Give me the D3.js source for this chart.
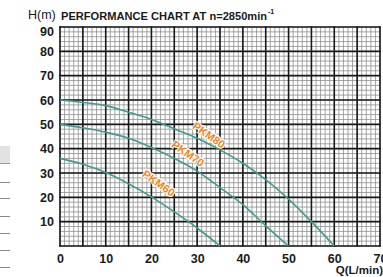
<!DOCTYPE html>
<html>
<head>
<meta charset="UTF-8">
<title></title>
<script src="https://cdn.jsdelivr.net/npm/d3@7/dist/d3.min.js"></script>
<style>
    body{ margin:0; padding:0; background:#fff; }
    svg text{ font-family:"Liberation Sans", Arial, sans-serif; }
    .tick text{ font-weight:bold; font-size:12.5px; fill:#1a1a1a; }
</style>
</head>
<body>
<svg id="chart" width="383" height="277"></svg>
<script>
// curve data (Q in L/min, H in m)
var pkm80Q = [0, 5, 10, 15, 20, 25, 30, 35, 40, 45, 50, 55, 60];
var pkm80H = [60, 59, 57.7, 55, 52, 48.2, 44.3, 39.5, 34, 27.3, 19.3, 10, 0];
var pkm70Q = [0, 5, 10, 15, 20, 25, 30, 35, 40, 45, 50];
var pkm70H = [50, 48.6, 46.8, 44.3, 40.5, 36, 30.8, 24, 17, 8.3, 0];
var pkm60Q = [0, 5, 10, 15, 20, 25, 30, 35];
var pkm60H = [36, 33.6, 30.2, 25.6, 20.2, 14, 7.4, 0];
var models = ["PKM80", "PKM70", "PKM60"];
var labelQ = [32.6, 28, 21.6];
var labelH = [45.6, 38, 25.8];
var xTicks = [0, 10, 20, 30, 40, 50, 60, 70];
var yTicks = [10, 20, 30, 40, 50, 60, 70, 80, 90];

var svg = d3.select("#chart");

var x = d3.scaleLinear().domain([0, 70]).range([60, 380]);
var y = d3.scaleLinear().domain([0, 90]).range([246, 27]);

// bits of the neighbouring table at the left edge
svg.append("rect").attr("x", 0).attr("y", 146).attr("width", 10).attr("height", 17)
    .attr("fill", "#e2e2e2");
svg.append("line").attr("x1", 0).attr("x2", 10).attr("y1", 163.5).attr("y2", 163.5)
    .attr("stroke", "#999");
svg.selectAll(".tbl").data([182, 198, 216, 233, 250, 267]).enter()
    .append("line").attr("class", "tbl")
    .attr("x1", 0).attr("x2", 10)
    .attr("y1", function(d){ return d + 0.5; }).attr("y2", function(d){ return d + 0.5; })
    .attr("stroke", "#888");

// minor grid
var g = svg.append("g");
g.selectAll(".vmin").data(d3.range(0, 71, 1)).enter()
    .append("line").attr("class", "vmin")
    .attr("x1", function(d){ return x(d); }).attr("x2", function(d){ return x(d); })
    .attr("y1", y(0)).attr("y2", y(90))
    .attr("stroke", "#8e8e8e").attr("stroke-width", 0.8);
g.selectAll(".hmin").data(d3.range(0, 91, 2)).enter()
    .append("line").attr("class", "hmin")
    .attr("y1", function(d){ return y(d); }).attr("y2", function(d){ return y(d); })
    .attr("x1", x(0)).attr("x2", x(70))
    .attr("stroke", "#8e8e8e").attr("stroke-width", 0.8);
// major grid
g.selectAll(".vmaj").data(d3.range(0, 71, 5)).enter()
    .append("line").attr("class", "vmaj")
    .attr("x1", function(d){ return x(d); }).attr("x2", function(d){ return x(d); })
    .attr("y1", y(0) + 0.8).attr("y2", y(90) - 0.8)
    .attr("stroke", "#1a1a1a").attr("stroke-width", 1.6);
g.selectAll(".hmaj").data(d3.range(0, 91, 10)).enter()
    .append("line").attr("class", "hmaj")
    .attr("y1", function(d){ return y(d); }).attr("y2", function(d){ return y(d); })
    .attr("x1", x(0) - 0.8).attr("x2", x(70) + 0.8)
    .attr("stroke", "#1a1a1a").attr("stroke-width", 1.6);

// axes (labels only)
var xAxis = d3.axisBottom(x).tickValues(xTicks).tickSize(0).tickPadding(8);
var yAxis = d3.axisLeft(y).tickValues(yTicks).tickSize(0).tickPadding(6);
svg.append("g").attr("transform", "translate(0," + y(0) + ")").call(xAxis)
    .call(function(s){ s.select(".domain").remove(); });
svg.append("g").attr("transform", "translate(" + x(0) + ",0)").call(yAxis)
    .call(function(s){
        s.select(".domain").remove();
        // top label sits a little below its line, under H(m)
        s.selectAll(".tick text").filter(function(d){ return d === 90; }).attr("y", 4);
    });

// curves
var line = d3.line()
    .x(function(d){ return x(d[0]); })
    .y(function(d){ return y(d[1]); })
    .curve(d3.curveMonotoneX);
[[pkm80Q, pkm80H], [pkm70Q, pkm70H], [pkm60Q, pkm60H]].forEach(function(s){
    svg.append("path")
        .datum(s[0].map(function(q, i){ return [q, s[1][i]]; }))
        .attr("d", line)
        .attr("fill", "none")
        .attr("stroke", "#3f9c8d")
        .attr("stroke-width", 1.6);
});

// model labels
svg.selectAll(".model").data(models).enter()
    .append("text").attr("class", "model")
    .attr("transform", function(d, i){
        return "translate(" + x(labelQ[i]) + "," + y(labelH[i]) + ") rotate(35)";
    })
    .attr("text-anchor", "middle").attr("dy", "0.35em")
    .attr("font-size", "11px").attr("font-weight", "bold")
    .attr("fill", "#f0861e")
    .attr("stroke", "#fff").attr("stroke-width", 2.2).attr("paint-order", "stroke")
    .text(function(d){ return d; });

// titles
svg.append("text").attr("x", 28).attr("y", 19)
    .attr("font-size", "12.5px").attr("fill", "#1a1a1a").text("H(m)");
var title = svg.append("text").attr("x", 61).attr("y", 20)
    .attr("font-size", "11.5px").attr("font-weight", "bold").attr("fill", "#1a1a1a");
title.append("tspan")
    .attr("textLength", 206).attr("lengthAdjust", "spacingAndGlyphs")
    .text("PERFORMANCE CHART AT n=2850min");
title.append("tspan").attr("dx", 1).attr("dy", -6).attr("font-size", "7px").text("-1");
svg.append("text").attr("x", 383).attr("y", 274).attr("text-anchor", "end")
    .attr("font-size", "11.5px").attr("font-weight", "bold").attr("fill", "#1a1a1a")
    .text("Q(L/min)");
</script>
</body>
</html>
